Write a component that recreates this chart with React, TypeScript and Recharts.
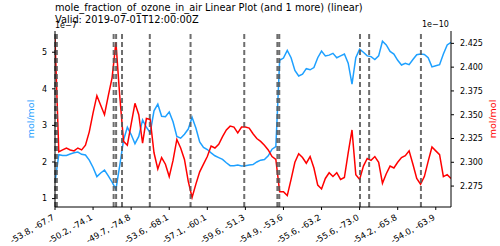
import { LineChart, Line, XAxis, YAxis, ReferenceLine } from 'recharts';

// position labels every 10 samples along the track
const tickLabels = [
  '-53.8, -67.7', '-50.2, -74.1', '-49.7, -74.8', '-53.6, -68.1', '-57.1, -60.1',
  '-59.6, -51.3', '-54.9, -53.6', '-55.6, -63.2', '-55.6, -73.0', '-54.2, -65.8', '-54.0, -63.9',
];

// first variable, left axis (x 1e-7 mol/mol)
const ozoneLeft = [
  1.45, 2.2, 2.18, 2.18, 2.22, 2.25, 2.27, 2.21, 2.19, 2.05,
  1.85, 1.6, 1.7, 1.78, 1.62, 1.45, 1.25, 1.9, 2.6, 2.95,
  2.75, 2.5, 2.7, 3.15, 2.95, 2.8, 3.4, 3.58, 3.25, 3.24,
  3.37, 3.1, 2.7, 2.65, 2.76, 2.9, 3.22, 2.93, 2.55, 2.4,
  2.34, 2.25, 2.17, 2.12, 2.07, 1.98, 1.9, 1.9, 1.92, 1.89,
  1.9, 1.92, 1.93, 2.0, 2.05, 2.07, 2.17, 2.35, 2.42, 4.78,
  4.84, 5.05, 4.85, 4.5, 4.35, 4.4, 4.55, 4.52, 4.58, 4.85,
  5.03, 4.9, 4.92, 4.97, 4.85, 4.9, 4.95, 4.7, 4.13, 4.85,
  5.08, 5.0, 4.9, 4.88, 4.8, 4.9, 5.3, 5.2, 5.02, 4.95,
  4.78, 4.65, 4.7, 4.66, 4.8, 4.93, 4.95, 4.94, 4.85, 4.6,
  4.63, 4.66, 4.95, 5.2, 5.27,
];

// second variable, right axis (x 1e-10 mol/mol)
const ozoneRight = [
  2.43, 2.311, 2.313, 2.315, 2.313, 2.312, 2.315, 2.313, 2.318, 2.332,
  2.352, 2.37, 2.36, 2.35, 2.37, 2.389, 2.426, 2.37, 2.322, 2.318,
  2.34, 2.362, 2.35, 2.32, 2.346, 2.345, 2.31, 2.293, 2.305, 2.298,
  2.285, 2.302, 2.324, 2.315, 2.303, 2.28, 2.263, 2.277, 2.29, 2.298,
  2.306, 2.317, 2.315, 2.319, 2.327, 2.334, 2.338, 2.337, 2.331, 2.337,
  2.337, 2.336, 2.33, 2.325, 2.322, 2.318, 2.313, 2.306, 2.303, 2.269,
  2.269, 2.265, 2.282, 2.3, 2.309, 2.305, 2.299, 2.306, 2.294, 2.276,
  2.272, 2.283, 2.289, 2.285, 2.289, 2.282, 2.284, 2.31, 2.334, 2.287,
  2.282, 2.296, 2.304, 2.302, 2.306, 2.3, 2.278, 2.288, 2.296, 2.294,
  2.3, 2.305, 2.307, 2.312, 2.298, 2.283, 2.277, 2.285, 2.301, 2.316,
  2.312, 2.308, 2.285, 2.287, 2.283,
];

// sample positions of the dashed marker lines
const markers = [0.05, 0.5, 15.4, 16.05, 17.6, 24.9, 35.6, 49.7, 58.4, 58.9, 80.1, 82.5, 96.1];

const leftTicks = [1, 2, 3, 4, 5];
const rightTicks = [2.275, 2.3, 2.325, 2.35, 2.375, 2.4, 2.425];

const data = ozoneLeft.map((v, i) => ({ idx: i, left: v, right: ozoneRight[i] }));

const FONT = 'DejaVu Sans';
const BLUE = '#1ea0ff';
const RED = '#ff0000';

function SlantTick(props: any) {
  const { x, y, payload } = props;
  const label = tickLabels[Math.round(payload.value / 10)];
  const ty = y + 7;
  return (
    <text x={x} y={ty} textAnchor="end" fontSize={8.5} fontFamily={FONT} fill="#000"
      transform={`rotate(-30, ${x}, ${ty})`}>
      {label}
    </text>
  );
}

export default function App() {
  return (
    <div style={{ position: 'absolute', left: 0, top: 0, width: 500, height: 246, background: '#fff' }}>
      <LineChart width={500} height={246} data={data} margin={{ top: 31, right: 0, bottom: 0, left: 0 }}>
        <XAxis dataKey="idx" type="number" domain={[0, 104]} ticks={[0, 10, 20, 30, 40, 50, 60, 70, 80, 90, 100]}
          tick={<SlantTick />} tickSize={3} tickMargin={2} height={39} stroke="#000" allowDataOverflow />
        <XAxis xAxisId="top" orientation="top" dataKey="idx" type="number" domain={[0, 104]}
          tick={false} tickLine={false} height={0} stroke="#000" />
        <YAxis yAxisId="l" domain={[0.77, 5.58]} ticks={leftTicks} width={55} tickSize={3} tickMargin={5}
          stroke="#000" tick={{ fontSize: 8, fontFamily: FONT, fill: '#000' }} allowDataOverflow />
        <YAxis yAxisId="r" orientation="right" domain={[2.253, 2.438]} ticks={rightTicks} width={49}
          tickSize={3} tickMargin={6} stroke="#000" tickFormatter={(v: number) => v.toFixed(3)}
          tick={{ fontSize: 8, fontFamily: FONT, fill: '#000', textAnchor: 'start' }} allowDataOverflow />
        <Line yAxisId="l" dataKey="left" stroke={BLUE} strokeWidth={1.5} dot={false} type="linear" isAnimationActive={false} />
        <Line yAxisId="r" dataKey="right" stroke={RED} strokeWidth={1.5} dot={false} type="linear" isAnimationActive={false} />
        {markers.map((m) => (
          <ReferenceLine key={m} x={m} yAxisId="l" stroke="#555" strokeOpacity={0.85} strokeWidth={2} strokeDasharray="5 3" />
        ))}
        <text x={55} y={11} fontSize={9.8} fontFamily={FONT} fill="#000">
          mole_fraction_of_ozone_in_air Linear Plot (and 1 more) (linear)
        </text>
        <text x={55} y={23} fontSize={9.8} fontFamily={FONT} fill="#000">Valid: 2019-07-01T12:00:00Z</text>
        <text x={55} y={28} fontSize={8} fontFamily={FONT} fill="#000">1e−7</text>
        <text x={422} y={27} fontSize={8} fontFamily={FONT} fill="#000">1e−10</text>
        <text x={34} y={119} fontSize={9.5} fontFamily={FONT} fill={BLUE} textAnchor="middle"
          transform="rotate(-90, 34, 119)">mol/mol</text>
        <text x={496} y={119} fontSize={9.5} fontFamily={FONT} fill={RED} textAnchor="middle"
          transform="rotate(-90, 496, 119)">mol/mol</text>
      </LineChart>
    </div>
  );
}
